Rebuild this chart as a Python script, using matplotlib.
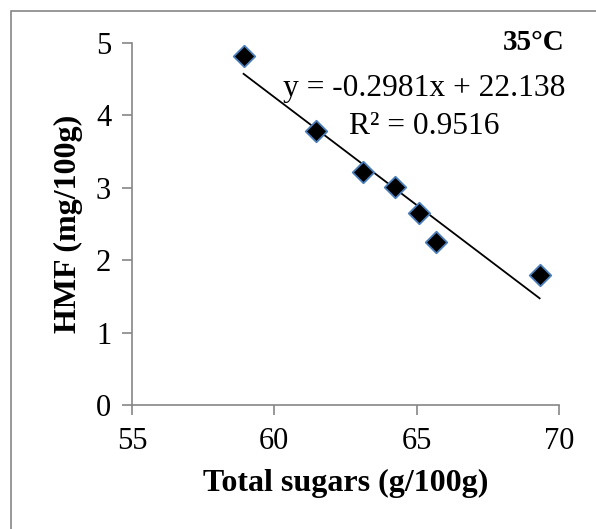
import matplotlib
matplotlib.use("Agg")
import matplotlib.pyplot as plt
from matplotlib.patches import Rectangle
import numpy as np

total_sugars = [58.92, 61.45, 63.10, 64.25, 65.08, 65.68, 69.32]
hmf = [4.82, 3.79, 3.22, 3.01, 2.65, 2.25, 1.80]
slope = -0.2981
intercept = 22.138
x_ticks = [55, 60, 65, 70]
y_ticks = [0, 1, 2, 3, 4, 5]

plt.rcParams['font.family'] = ['Liberation Serif', 'DejaVu Serif']

W, H = 596, 529
fig = plt.figure(figsize=(W/100, H/100), dpi=100)
fig.patch.set_facecolor('white')
fig.patches.append(Rectangle((11/W, -0.1), 1.2, 1 - 11/H + 0.1, transform=fig.transFigure,
                             fill=False, edgecolor='#868686', linewidth=1.2))

ax = fig.add_axes([132/W, 1 - 405/H, (559-132)/W, (405-43)/H])
grey = '#868686'
for s in ['top', 'right']:
    ax.spines[s].set_visible(False)
for s in ['left', 'bottom']:
    ax.spines[s].set_color(grey)
    ax.spines[s].set_linewidth(1.2)
ax.set_xlim(55, 70)
ax.set_ylim(0, 5)
ax.set_xticks(x_ticks)
ax.set_yticks(y_ticks)
ax.tick_params(direction='out', length=7, width=1.2, color=grey, labelsize=22)
ax.tick_params(axis='x', pad=9)
ax.tick_params(axis='y', pad=8)

xs = np.array([min(total_sugars), max(total_sugars)])
ax.plot(xs, slope*xs + intercept, color='black', linewidth=1.3, zorder=2)
ax.scatter(total_sugars, hmf, marker='D', s=120, facecolor='black', edgecolor='#4a7ebb',
           linewidth=1.3, zorder=3, clip_on=False)

ax.text(70.2, 5.0, '35°C', fontsize=21, fontweight='bold', ha='right', va='center')
ax.text(65.25, 4.37, f'y = {slope}x + {intercept}', fontsize=22.7, ha='center', va='center')
ax.text(65.25, 3.84, 'R² = 0.9516', fontsize=22.7, ha='center', va='center')

ax.set_xlabel('Total sugars (g/100g)', fontsize=23, fontweight='bold', labelpad=9)
ax.set_ylabel('HMF (mg/100g)', fontsize=23, fontweight='bold', labelpad=9)

fig.savefig('out.png', dpi=100)
